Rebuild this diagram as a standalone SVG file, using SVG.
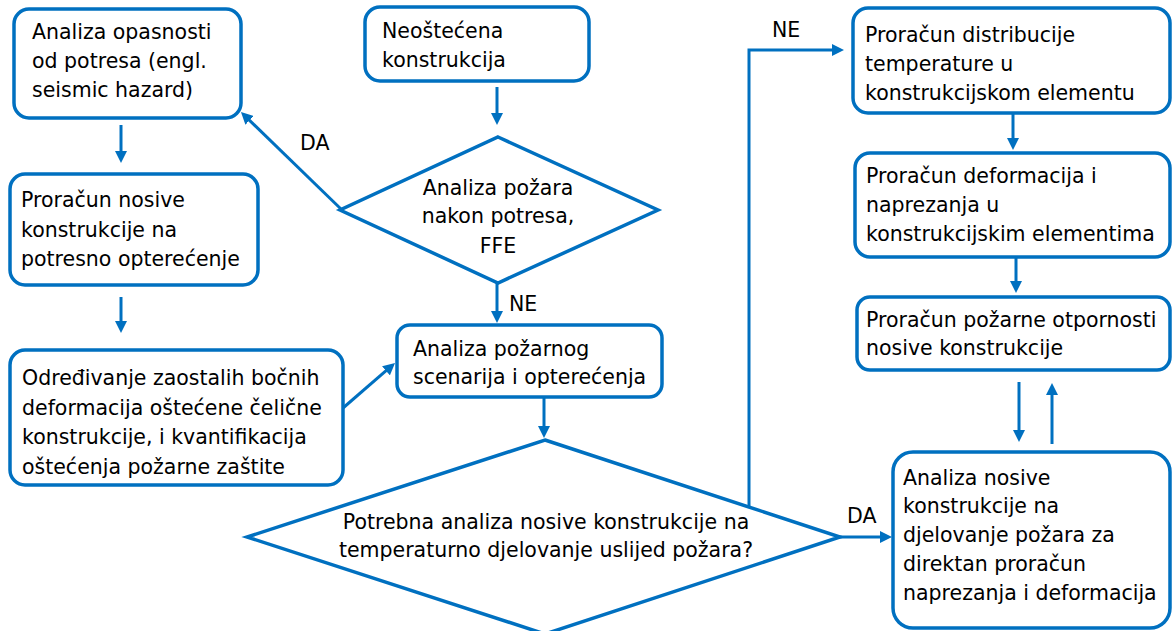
<svg xmlns="http://www.w3.org/2000/svg" width="1173" height="631" viewBox="0 0 1173 631">
<style>
.box{fill:#fff;stroke:#0070C0;stroke-width:3.5}
.dia{fill:#fff;stroke:#0070C0;stroke-width:3.5;stroke-linejoin:miter}
.t{font-family:"DejaVu Sans",sans-serif;font-size:20.5px;fill:#000}
.c{text-anchor:middle}
.con{fill:none;stroke:#0070C0;stroke-width:3}
</style>
<defs>
<marker id="ah" viewBox="0 0 12 12" refX="4" refY="6" markerWidth="12" markerHeight="12" markerUnits="userSpaceOnUse" orient="auto">
<path d="M0,0 L12,6 L0,12 z" fill="#0070C0"/>
</marker>
</defs>
<rect width="1173" height="631" fill="#fff"/>
<g id="n1"><rect class="box" x="14" y="9" width="227" height="109" rx="15"/>
<text class="t" x="32" y="39">Analiza opasnosti</text><text class="t" x="32" y="68">od potresa (engl.</text><text class="t" x="32" y="97">seismic hazard)</text></g>
<g id="n2"><rect class="box" x="365" y="7" width="224" height="74" rx="15"/>
<text class="t" x="382" y="38">Neoštećena</text><text class="t" x="382" y="67">konstrukcija</text></g>
<g id="n3"><rect class="box" x="10" y="174" width="248" height="111" rx="15"/>
<text class="t" x="21" y="207">Proračun nosive</text><text class="t" x="21" y="237">konstrukcije na</text><text class="t" x="21" y="266">potresno opterećenje</text></g>
<g id="n4"><rect class="box" x="10" y="350" width="333" height="135" rx="15"/>
<text class="t" x="22" y="385">Određivanje zaostalih bočnih</text><text class="t" x="22" y="415">deformacija oštećene čelične</text><text class="t" x="22" y="444">konstrukcije, i kvantifikacija</text><text class="t" x="22" y="474">oštećenja požarne zaštite</text></g>
<g id="n5"><rect class="box" x="397" y="325" width="265" height="72" rx="13"/>
<text class="t" x="413" y="356">Analiza požarnog</text><text class="t" x="413" y="384">scenarija i opterećenja</text></g>
<g id="d1"><polygon class="dia" points="498,137 658,210 498,283 340,210"/>
<text class="t c" x="498" y="195">Analiza požara</text><text class="t c" x="498" y="223">nakon potresa,</text><text class="t c" x="498" y="253">FFE</text></g>
<g id="d2"><polygon class="dia" points="545,440 840,537 545,634 247,537"/>
<text class="t c" x="546" y="529">Potrebna analiza nosive konstrukcije na</text><text class="t c" x="546" y="557">temperaturno djelovanje uslijed požara?</text></g>
<g id="n6"><rect class="box" x="853" y="8" width="317" height="105" rx="15"/>
<text class="t" x="865" y="42">Proračun distribucije</text><text class="t" x="865" y="71">temperature u</text><text class="t" x="865" y="100">konstrukcijskom elementu</text></g>
<g id="n7"><rect class="box" x="855" y="153" width="315" height="104" rx="15"/>
<text class="t" x="866" y="183">Proračun deformacija i</text><text class="t" x="866" y="212">naprezanja u</text><text class="t" x="866" y="241">konstrukcijskim elementima</text></g>
<g id="n8"><rect class="box" x="857" y="297" width="313" height="73" rx="13"/>
<text class="t" x="866" y="327">Proračun požarne otpornosti</text><text class="t" x="866" y="355">nosive konstrukcije</text></g>
<g id="n9"><rect class="box" x="893" y="452" width="277" height="176" rx="20"/>
<text class="t" x="903" y="485">Analiza nosive</text><text class="t" x="903" y="513">konstrukcije na</text><text class="t" x="903" y="542">djelovanje požara za</text><text class="t" x="903" y="571">direktan proračun</text><text class="t" x="903" y="600">naprezanja i deformacija</text></g>
<g id="connectors">
<line class="con" x1="121" y1="125" x2="121" y2="155" marker-end="url(#ah)"/>
<line class="con" x1="497" y1="87" x2="497" y2="117" marker-end="url(#ah)"/>
<line class="con" x1="342" y1="210" x2="246.7" y2="117.6" marker-end="url(#ah)"/>
<line class="con" x1="497" y1="283" x2="497" y2="315" marker-end="url(#ah)"/>
<line class="con" x1="121" y1="297" x2="121" y2="325" marker-end="url(#ah)"/>
<line class="con" x1="343" y1="408" x2="389" y2="368.2" marker-end="url(#ah)"/>
<line class="con" x1="544" y1="397" x2="544" y2="430" marker-end="url(#ah)"/>
<polyline class="con" points="749,507 749,50 836,50" marker-end="url(#ah)"/>
<line class="con" x1="840" y1="537" x2="884" y2="537" marker-end="url(#ah)"/>
<line class="con" x1="1013" y1="113" x2="1013" y2="142" marker-end="url(#ah)"/>
<line class="con" x1="1016" y1="257" x2="1016" y2="285" marker-end="url(#ah)"/>
<line class="con" x1="1019" y1="382" x2="1019" y2="434" marker-end="url(#ah)"/>
<line class="con" x1="1052" y1="444" x2="1052" y2="391" marker-end="url(#ah)"/>
<text class="t" x="300" y="150">DA</text>
<text class="t" x="509" y="311">NE</text>
<text class="t" x="772" y="37">NE</text>
<text class="t" x="847" y="523">DA</text>
</g>
</svg>
